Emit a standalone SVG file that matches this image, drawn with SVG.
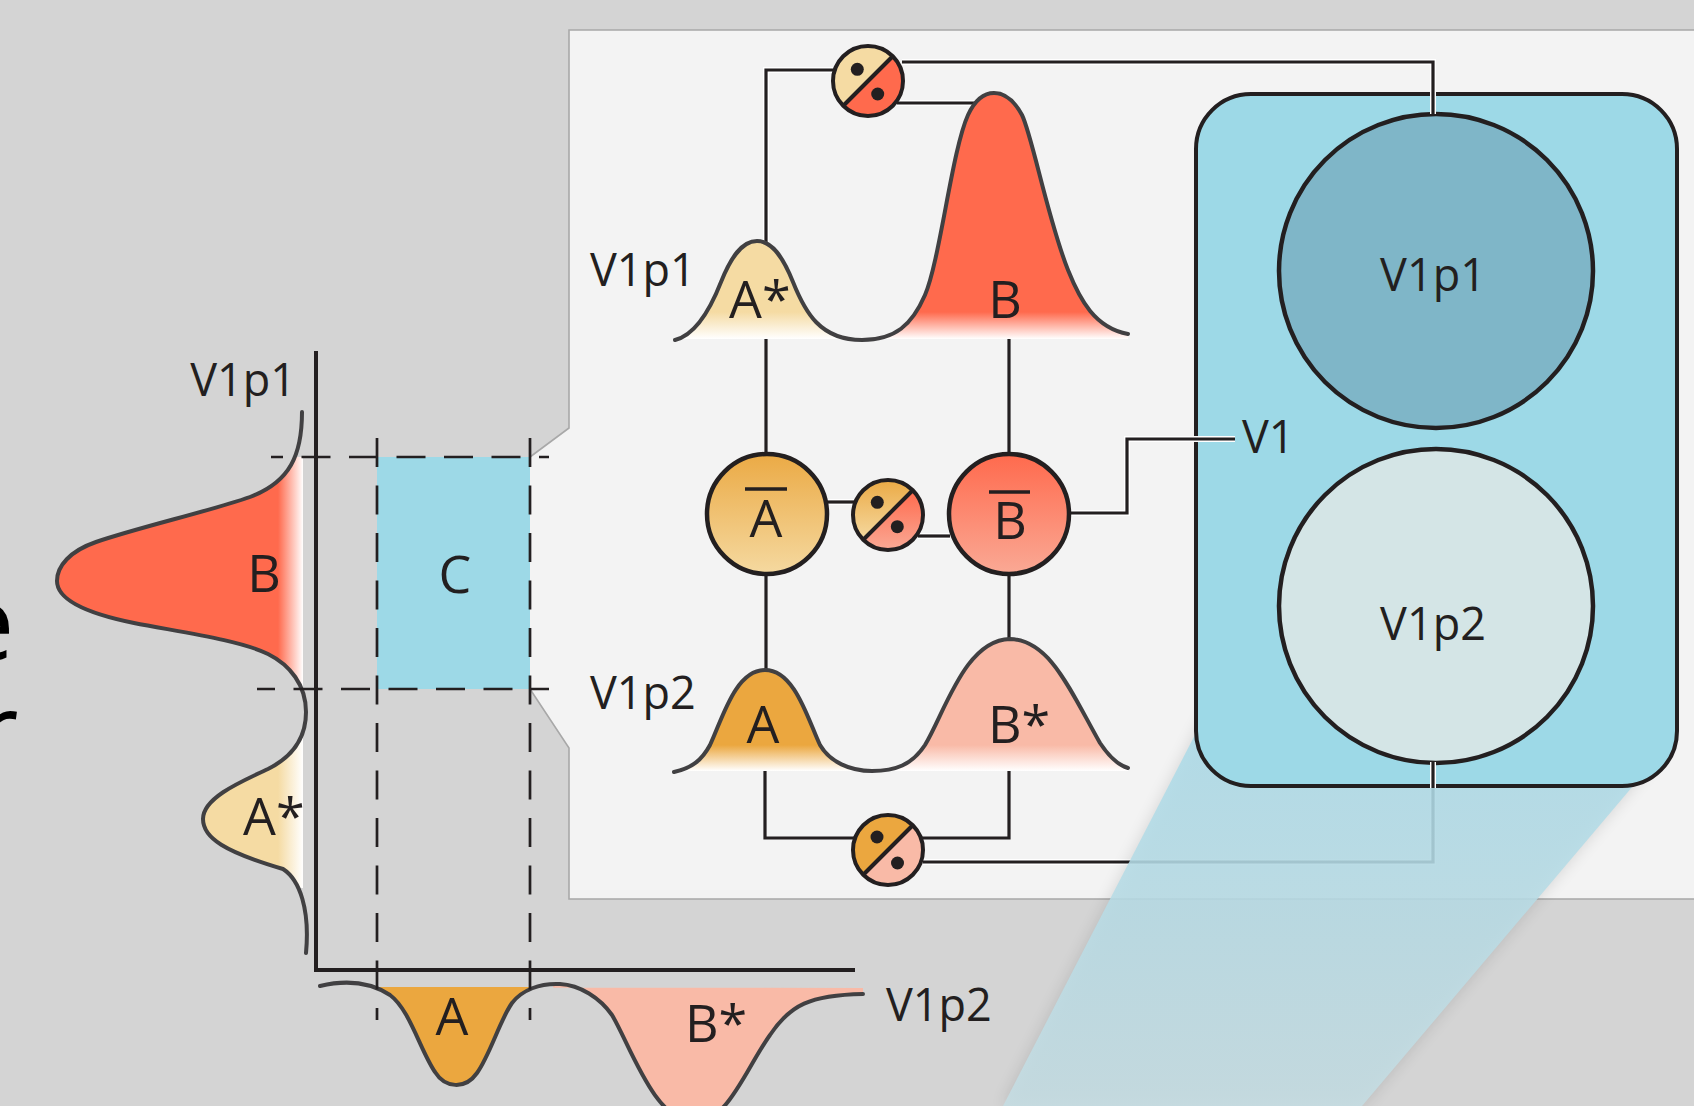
<svg xmlns="http://www.w3.org/2000/svg" width="1694" height="1106" viewBox="0 0 1694 1106">
<style>
.t{font-family:"Open Sans","Noto Sans","DejaVu Sans",sans-serif;fill:#231f20}
.lab{font-size:45px}
.big{font-size:52px}
.crv{fill:none;stroke:#414042;stroke-width:4;stroke-linecap:round;stroke-linejoin:round}
.halo{fill:none;stroke:#ffffff;stroke-width:6}
.wire{fill:none;stroke:#231f20;stroke-width:3.2}
.dash{fill:none;stroke:#231f20;stroke-width:2.7;stroke-dasharray:29 18.5}
.ring{stroke:#231f20;stroke-width:4.5}
.sring{fill:none;stroke:#231f20;stroke-width:4}
.dot{fill:#231f20}
.frag{font-family:"Open Sans","Noto Sans",sans-serif;font-size:104px;fill:#000}
</style>
<defs>
<linearGradient id="gLred" gradientUnits="userSpaceOnUse" x1="278" y1="0" x2="303" y2="0"><stop offset="0" stop-color="#ff6a4d"/><stop offset="1" stop-color="#ffffff"/></linearGradient>
<linearGradient id="gLyel" gradientUnits="userSpaceOnUse" x1="278" y1="0" x2="303" y2="0"><stop offset="0" stop-color="#f5dba3"/><stop offset="1" stop-color="#ffffff"/></linearGradient>
<linearGradient id="gTyel" gradientUnits="userSpaceOnUse" x1="0" y1="312" x2="0" y2="339"><stop offset="0" stop-color="#f5dba3"/><stop offset="1" stop-color="#ffffff"/></linearGradient>
<linearGradient id="gTred" gradientUnits="userSpaceOnUse" x1="0" y1="312" x2="0" y2="339"><stop offset="0" stop-color="#ff6a4d"/><stop offset="1" stop-color="#ffffff"/></linearGradient>
<linearGradient id="gBor" gradientUnits="userSpaceOnUse" x1="0" y1="745" x2="0" y2="771"><stop offset="0" stop-color="#eba73f"/><stop offset="1" stop-color="#ffffff"/></linearGradient>
<linearGradient id="gBpk" gradientUnits="userSpaceOnUse" x1="0" y1="745" x2="0" y2="771"><stop offset="0" stop-color="#f9baa7"/><stop offset="1" stop-color="#ffffff"/></linearGradient>
<linearGradient id="gCO" x1="0" y1="0" x2="0" y2="1"><stop offset="0" stop-color="#ebaa45"/><stop offset="1" stop-color="#f5d9a0"/></linearGradient>
<linearGradient id="gCR" x1="0" y1="0" x2="0" y2="1"><stop offset="0" stop-color="#ff6a4d"/><stop offset="1" stop-color="#faa995"/></linearGradient>
<linearGradient id="gBeam" gradientUnits="userSpaceOnUse" x1="0" y1="740" x2="0" y2="1106"><stop offset="0" stop-color="#addbe8"/><stop offset="1" stop-color="#c5dde3"/></linearGradient>
<filter id="blur" x="-20%" y="-20%" width="140%" height="140%"><feGaussianBlur stdDeviation="8"/></filter>
<clipPath id="cB"><rect x="0" y="457" width="320" height="232"/></clipPath>
<clipPath id="cAs"><rect x="0" y="738" width="320" height="150"/></clipPath>
<clipPath id="cTL"><rect x="660" y="200" width="202" height="150"/></clipPath>
<clipPath id="cTR"><rect x="862" y="60" width="280" height="290"/></clipPath>
<clipPath id="cML"><rect x="660" y="600" width="212" height="180"/></clipPath>
<clipPath id="cMR"><rect x="872" y="600" width="270" height="180"/></clipPath>
<clipPath id="cXA"><rect x="377" y="970" width="153" height="140"/></clipPath>
<clipPath id="cXB"><rect x="553" y="970" width="310" height="140"/></clipPath>
</defs>

<rect x="0" y="0" width="1694" height="1106" fill="#d4d4d4"/>

<!-- cut-off text at left edge -->
<text class="frag" x="-44" y="660">e</text>
<text class="frag" x="-24" y="768">r</text>

<!-- zoom panel -->
<g id="panel">
<path d="M569,30 H1700 V899 H569 V748 L530,689 V457 L569,428 Z" fill="#f3f3f3"/>
<path d="M1700,30 H569 V428 L530,457 M530,689 L569,748 V899 H1700" fill="none" stroke="#a8a8a8" stroke-width="1.6"/>
</g>

<!-- left joint distribution chart -->
<g id="chart">
<rect id="regionC" x="377" y="457" width="153" height="232" fill="#9dd9e7"/>
<g id="distV1p1">
<path clip-path="url(#cB)" fill="url(#gLred)" d="M302,412 C302,455 290,482 250,497 C210,511 140,527 96,542 C70,551 57,566 57,581 C57,598 80,612 134,623 C180,632 240,640 268,654 C290,665 306,685 306,712 C306,740 290,758 268,769 C240,782 203,798 203,819 C203,838 225,852 283,869 C300,880 310,910 306,953 L303,953 L303,412 Z"/>
<path clip-path="url(#cAs)" fill="url(#gLyel)" d="M302,412 C302,455 290,482 250,497 C210,511 140,527 96,542 C70,551 57,566 57,581 C57,598 80,612 134,623 C180,632 240,640 268,654 C290,665 306,685 306,712 C306,740 290,758 268,769 C240,782 203,798 203,819 C203,838 225,852 283,869 C300,880 310,910 306,953 L303,953 L303,412 Z"/>
<path class="crv" d="M302,412 C302,455 290,482 250,497 C210,511 140,527 96,542 C70,551 57,566 57,581 C57,598 80,612 134,623 C180,632 240,640 268,654 C290,665 306,685 306,712 C306,740 290,758 268,769 C240,782 203,798 203,819 C203,838 225,852 283,869 C300,880 310,910 306,953"/>
<text class="t big" x="264" y="592" text-anchor="middle">B</text>
<text class="t big" x="243" y="835">A*</text>
</g>
<g id="distV1p2">
<path clip-path="url(#cXA)" fill="#eba73f" d="M320,986 C345,980 370,982 390,995 C410,1010 420,1050 435,1072 C445,1088 465,1090 477,1073 C490,1055 500,1020 512,1003 C522,990 540,983 560,984 C580,985 600,998 612,1015 C630,1045 655,1122 694,1122 C728,1122 745,1070 770,1035 C790,1005 810,995 863,994 L863,987 L320,987 Z"/>
<path clip-path="url(#cXB)" fill="#f9baa7" d="M320,986 C345,980 370,982 390,995 C410,1010 420,1050 435,1072 C445,1088 465,1090 477,1073 C490,1055 500,1020 512,1003 C522,990 540,983 560,984 C580,985 600,998 612,1015 C630,1045 655,1122 694,1122 C728,1122 745,1070 770,1035 C790,1005 810,995 863,994 L863,988 L320,987 Z"/>
<path class="crv" d="M320,986 C345,980 370,982 390,995 C410,1010 420,1050 435,1072 C445,1088 465,1090 477,1073 C490,1055 500,1020 512,1003 C522,990 540,983 560,984 C580,985 600,998 612,1015 C630,1045 655,1122 694,1122 C728,1122 745,1070 770,1035 C790,1005 810,995 863,994"/>
<text class="t big" x="452" y="1035" text-anchor="middle">A</text>
<text class="t big" x="685" y="1042">B*</text>
</g>
<path d="M316,351 V970 H855" fill="none" stroke="#231f20" stroke-width="4"/>
<path class="dash" d="M271,457 H549" stroke-dashoffset="17"/>
<path class="dash" d="M257,689 H549" stroke-dashoffset="11"/>
<path class="dash" d="M377,438 V1020"/>
<path class="dash" d="M530,438 V1020"/>
<text class="t big" x="455" y="593" text-anchor="middle">C</text>
<text class="t lab" x="296" y="396" text-anchor="end">V1p1</text>
<text class="t lab" x="886" y="1021">V1p2</text>
</g>

<!-- connector passing under the projection beam -->
<g id="connectors-under">
<path class="halo" d="M923,862 H1433 V762"/>
<path class="wire" d="M923,862 H1433 V762"/>
</g>

<!-- projection beam -->
<g id="beam">
<polygon points="1213,700 1655,760 1362,1106 1003,1106" fill="#000" opacity="0.12" filter="url(#blur)"/>
<polygon points="1213,700 1655,760 1362,1106 1003,1106" fill="url(#gBeam)" opacity="0.88"/>
</g>

<!-- V1 node -->
<g id="V1">
<rect x="1196" y="94" width="481" height="692" rx="55" fill="#9dd9e7" stroke="#231f20" stroke-width="4"/>
</g>
<g id="V1p1node">
<circle cx="1436" cy="271" r="157" fill="#7fb6c8" class="ring"/>
<text class="t lab" x="1433" y="291" text-anchor="middle">V1p1</text>
</g>
<g id="V1p2node">
<circle cx="1436" cy="606" r="157" fill="#d4e5e6" class="ring"/>
<text class="t lab" x="1433" y="640" text-anchor="middle">V1p2</text>
</g>

<!-- connectors -->
<g id="connectors">
<path class="halo" d="M834,70 H766 V242"/><path class="wire" d="M834,70 H766 V242"/>
<path class="halo" d="M902,62 H1433 V114"/><path class="wire" d="M902,62 H1433 V114"/>
<path class="halo" d="M897,103 H977"/><path class="wire" d="M897,103 H977"/>
<path class="wire" d="M766,334 V454"/>
<path class="wire" d="M1009,332 V454"/>
<path class="halo" d="M827,502 H854"/><path class="wire" d="M827,502 H854"/>
<path class="halo" d="M918,536 H950"/><path class="wire" d="M918,536 H950"/>
<path class="halo" d="M1070,513 H1127 V439 H1235"/><path class="wire" d="M1070,513 H1127 V439 H1235"/>
<path class="wire" d="M766,575 V670"/>
<path class="wire" d="M1009,575 V639"/>
<path class="wire" d="M765,765 V838 H854"/>
<path class="wire" d="M1009,768 V838 H922"/>
<path class="halo" d="M1433,762 V788"/><path class="wire" d="M1433,762 V788"/>
</g>

<!-- V1p1 row distributions -->
<g id="rowV1p1">
<path clip-path="url(#cTL)" fill="url(#gTyel)" d="M675,340 C695,335 710,310 721,282 C731,257 742,241 757,241 C772,241 783,257 793,282 C805,312 820,340 862,340 C895,340 912,325 925,295 C940,260 952,150 968,115 C975,100 983,93 994,93 C1005,93 1015,102 1022,115 C1032,135 1048,220 1068,270 C1080,300 1095,328 1128,334 L1128,339 L675,339 Z"/>
<path clip-path="url(#cTR)" fill="url(#gTred)" d="M675,340 C695,335 710,310 721,282 C731,257 742,241 757,241 C772,241 783,257 793,282 C805,312 820,340 862,340 C895,340 912,325 925,295 C940,260 952,150 968,115 C975,100 983,93 994,93 C1005,93 1015,102 1022,115 C1032,135 1048,220 1068,270 C1080,300 1095,328 1128,334 L1128,339 L675,339 Z"/>
<path class="crv" d="M675,340 C695,335 710,310 721,282 C731,257 742,241 757,241 C772,241 783,257 793,282 C805,312 820,340 862,340 C895,340 912,325 925,295 C940,260 952,150 968,115 C975,100 983,93 994,93 C1005,93 1015,102 1022,115 C1032,135 1048,220 1068,270 C1080,300 1095,328 1128,334"/>
<text class="t big" x="729" y="318">A*</text>
<text class="t big" x="1005" y="318" text-anchor="middle">B</text>
<text class="t lab" x="590" y="286">V1p1</text>
</g>

<!-- V1p2 row distributions -->
<g id="rowV1p2">
<path clip-path="url(#cML)" fill="url(#gBor)" d="M674,772 C692,768 702,760 710,745 C722,720 735,670 765,670 C795,670 808,720 820,745 C830,762 850,771 872,771 C895,771 912,765 925,745 C945,712 965,640 1010,639 C1050,640 1070,690 1100,743 C1110,758 1118,765 1128,768 L1128,771 L674,771 Z"/>
<path clip-path="url(#cMR)" fill="url(#gBpk)" d="M674,772 C692,768 702,760 710,745 C722,720 735,670 765,670 C795,670 808,720 820,745 C830,762 850,771 872,771 C895,771 912,765 925,745 C945,712 965,640 1010,639 C1050,640 1070,690 1100,743 C1110,758 1118,765 1128,768 L1128,771 L674,771 Z"/>
<path class="crv" d="M674,772 C692,768 702,760 710,745 C722,720 735,670 765,670 C795,670 808,720 820,745 C830,762 850,771 872,771 C895,771 912,765 925,745 C945,712 965,640 1010,639 C1050,640 1070,690 1100,743 C1110,758 1118,765 1128,768"/>
<text class="t big" x="763" y="743" text-anchor="middle">A</text>
<text class="t big" x="988" y="743">B*</text>
<text class="t lab" x="590" y="709">V1p2</text>
</g>

<!-- mean nodes -->
<g id="Abar">
<circle cx="767" cy="514" r="60" fill="url(#gCO)" class="ring"/>
<line x1="745" y1="489" x2="787" y2="489" stroke="#231f20" stroke-width="3.3"/>
<text class="t big" x="766" y="537" text-anchor="middle">A</text>
</g>
<g id="Bbar">
<circle cx="1009" cy="514" r="60" fill="url(#gCR)" class="ring"/>
<line x1="989" y1="492" x2="1030" y2="492" stroke="#231f20" stroke-width="3.3"/>
<text class="t big" x="1010" y="539" text-anchor="middle">B</text>
</g>

<!-- ratio nodes -->
<g id="ratioTop" transform="translate(868,81)">
<path d="M-24.75,24.75 A35,35 0 0 1 24.75,-24.75 Z" fill="#f5dba3"/>
<path d="M-24.75,24.75 A35,35 0 0 0 24.75,-24.75 Z" fill="#ff6a4d"/>
<line x1="-24.75" y1="24.75" x2="24.75" y2="-24.75" stroke="#231f20" stroke-width="4"/>
<circle class="sring" r="35"/>
<circle class="dot" cx="-10.7" cy="-11.7" r="6.5"/>
<circle class="dot" cx="9.7" cy="13" r="6.5"/>
</g>
<g id="ratioMid" transform="translate(888,515)">
<path d="M-24.75,24.75 A35,35 0 0 1 24.75,-24.75 Z" fill="url(#gCO)"/>
<path d="M-24.75,24.75 A35,35 0 0 0 24.75,-24.75 Z" fill="url(#gCR)"/>
<line x1="-24.75" y1="24.75" x2="24.75" y2="-24.75" stroke="#231f20" stroke-width="4"/>
<circle class="sring" r="35"/>
<circle class="dot" cx="-10.7" cy="-12.7" r="6.5"/>
<circle class="dot" cx="9.3" cy="11.7" r="6.5"/>
</g>
<g id="ratioBot" transform="translate(888,850)">
<path d="M-24.75,24.75 A35,35 0 0 1 24.75,-24.75 Z" fill="#eba73f"/>
<path d="M-24.75,24.75 A35,35 0 0 0 24.75,-24.75 Z" fill="#f9baa7"/>
<line x1="-24.75" y1="24.75" x2="24.75" y2="-24.75" stroke="#231f20" stroke-width="4"/>
<circle class="sring" r="35"/>
<circle class="dot" cx="-11" cy="-13" r="6.5"/>
<circle class="dot" cx="9.5" cy="13" r="6.5"/>
</g>

<text class="t lab" x="1242" y="453">V1</text>
</svg>
